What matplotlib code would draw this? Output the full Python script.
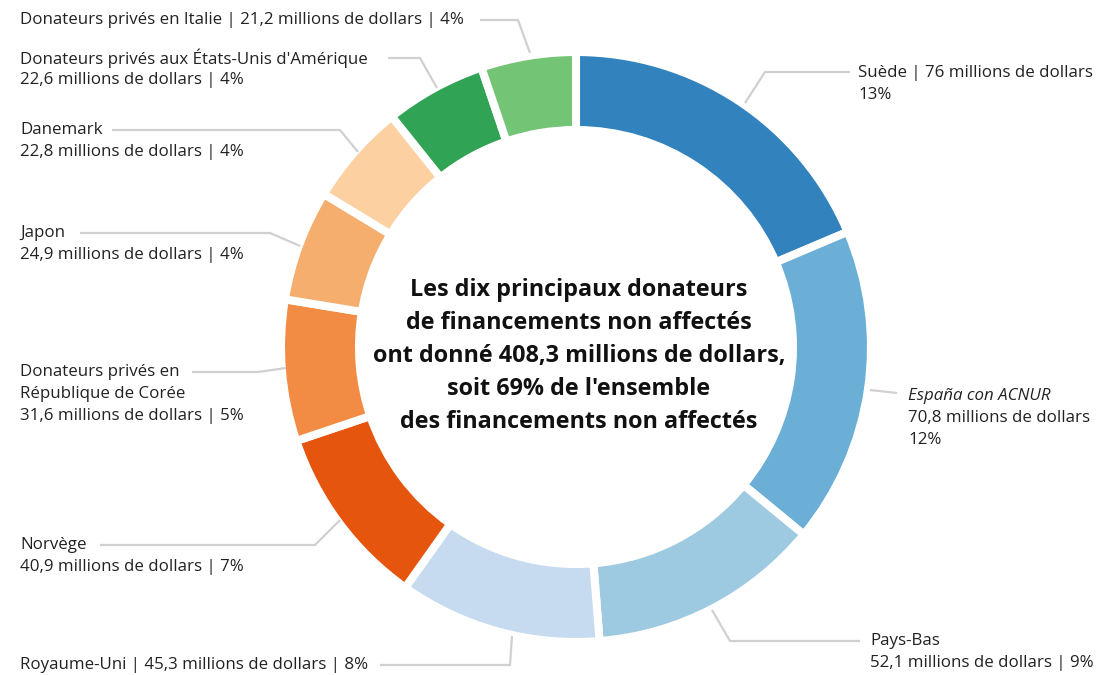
import matplotlib
matplotlib.use("Agg")
import matplotlib.pyplot as plt

W, H = 1099, 675

donors = ["Suède", "España con ACNUR", "Pays-Bas", "Royaume-Uni", "Norvège",
          "Donateurs privés en République de Corée", "Japon", "Danemark",
          "Donateurs privés aux États-Unis d'Amérique", "Donateurs privés en Italie"]
amounts = [76, 70.8, 52.1, 45.3, 40.9, 31.6, 24.9, 22.8, 22.6, 21.2]
shares = ["13%", "12%", "9%", "8%", "7%", "5%", "4%", "4%", "4%", "4%"]
colors = ["#3182bd", "#6baed6", "#9ecae1", "#c6dbef", "#e6550d",
          "#f28c44", "#f6ae6e", "#fdd0a2", "#31a354", "#74c476"]

center_text = ("Les dix principaux donateurs\n"
               "de financements non affectés\n"
               "ont donné 408,3 millions de dollars,\n"
               "soit 69% de l'ensemble\n"
               "des financements non affectés")

plt.rcParams["font.family"] = ["Open Sans", "DejaVu Sans"]
fontsize = 12.2
line_col = "#d0d0d0"


def fmt(v):
    s = f"{v:g}".replace(".", ",")
    return f"{s} millions de dollars"


def y(py):
    # pixel row -> data y
    return H - py


fig = plt.figure(figsize=(W / 100, H / 100), dpi=100)
ax = fig.add_axes([0, 0, 1, 1])

cx, cy = 576, y(347)
ax.pie(amounts, colors=colors, startangle=90, counterclock=False,
       center=(cx, cy), radius=295,
       wedgeprops=dict(width=78, edgecolor="white", linewidth=5.8, joinstyle="round"))

ax.set_xlim(0, W)
ax.set_ylim(0, H)
ax.set_aspect("equal")
ax.axis("off")

ax.text(cx + 3, y(356), center_text, ha="center", va="center", fontsize=16.8,
        fontweight="bold", linespacing=1.5, color="#111111")

# labels: (lines, x, first line row, align, leader polyline)
labels = [
    ([f"{donors[0]} | 76 millions de dollars", shares[0]], 858, 73, "left",
     [(745, 103), (765, 72), (850, 72)]),
    (None, 908, 396, "left", [(870, 390), (897, 393)]),
    ([donors[2], f"{fmt(amounts[2])} | {shares[2]}"], 870, 641, "left",
     [(712, 610), (730, 641), (860, 641)]),
    ([f"{donors[3]} | {fmt(amounts[3])} | {shares[3]}"], 20, 665, "left",
     [(380, 665), (510, 665), (512, 636)]),
    ([donors[4], f"{fmt(amounts[4])} | {shares[4]}"], 20, 545, "left",
     [(100, 545), (315, 545), (340, 520)]),
    (["Donateurs privés en", "République de Corée", f"{fmt(amounts[5])} | {shares[5]}"],
     20, 372, "left", [(192, 372), (258, 372), (286, 368)]),
    ([donors[6], f"{fmt(amounts[6])} | {shares[6]}"], 20, 233, "left",
     [(80, 233), (270, 233), (300, 246)]),
    ([donors[7], f"{fmt(amounts[7])} | {shares[7]}"], 20, 130, "left",
     [(112, 130), (340, 130), (358, 152)]),
    ([donors[8], f"{fmt(amounts[8])} | {shares[8]}"], 20, 58, "left",
     [(388, 58), (420, 58), (437, 88)]),
    ([f"{donors[9]} | {fmt(amounts[9])} | {shares[9]}"], 20, 20, "left",
     [(480, 20), (518, 20), (530, 53)]),
]

step = 22
for lines, lx, ly, ha, leader in labels:
    xs = [p[0] for p in leader]
    ys = [y(p[1]) for p in leader]
    ax.plot(xs, ys, color=line_col, lw=1.6, solid_capstyle="butt", zorder=1)
    if lines is None:
        ax.text(lx, y(ly), donors[1], ha=ha, va="center", fontsize=fontsize,
                style="italic", color="#222222")
        ax.text(lx, y(ly + step), fmt(amounts[1]), ha=ha, va="center",
                fontsize=fontsize, color="#222222")
        ax.text(lx, y(ly + 2 * step), shares[1], ha=ha, va="center",
                fontsize=fontsize, color="#222222")
        continue
    for i, t in enumerate(lines):
        ax.text(lx, y(ly + i * step), t, ha=ha, va="center", fontsize=fontsize,
                color="#222222")

fig.savefig("out.png", dpi=100, facecolor="white")
